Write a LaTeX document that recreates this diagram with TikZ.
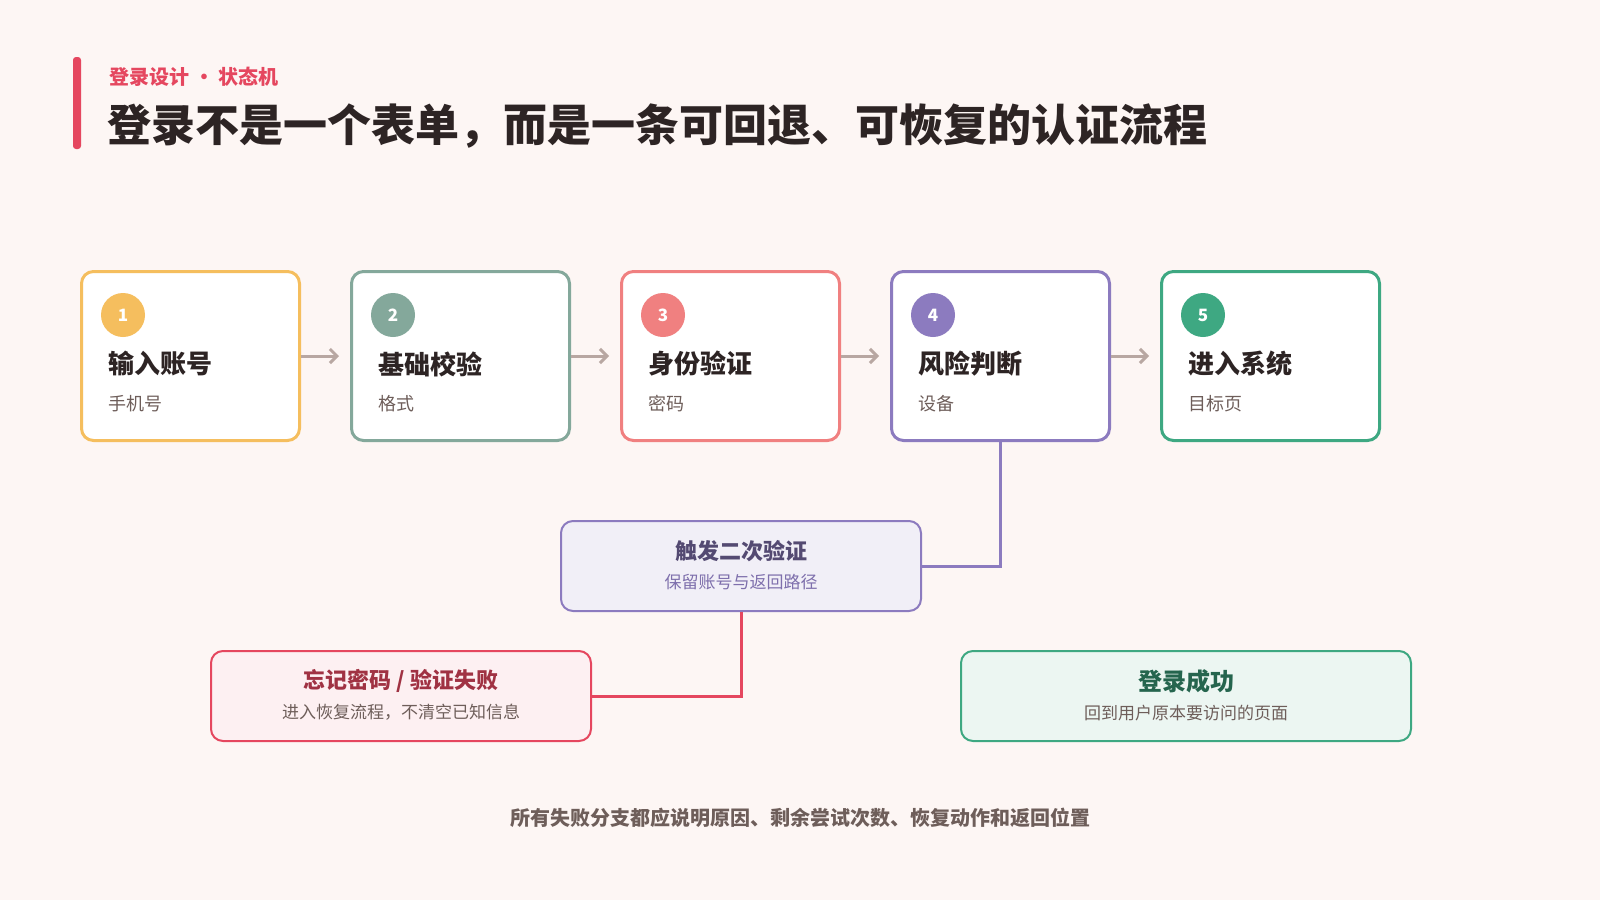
\documentclass[tikz,border=0pt]{standalone}
\usepackage{fontspec}
\setmainfont{Noto Sans CJK SC}
\usetikzlibrary{positioning,arrows.meta,calc}
\definecolor{bgc}{HTML}{FDF6F4}
\definecolor{ink}{HTML}{2D2424}
\definecolor{subc}{HTML}{6E5E5A}
\definecolor{redc}{HTML}{E5475F}
\definecolor{arrc}{HTML}{B8A7A2}
\definecolor{cA}{HTML}{F5BE5E}
\definecolor{cB}{HTML}{84A89B}
\definecolor{cC}{HTML}{F08080}
\definecolor{cD}{HTML}{8C7BBF}
\definecolor{cE}{HTML}{3EA882}
\tikzset{
  step/.style={draw=#1, line width=3pt, fill=white, rounded corners=12pt, minimum width=218pt, minimum height=169pt, anchor=north west},
  badge/.style={circle, fill=#1, minimum size=44pt, inner sep=0pt, text=white, font=\fontsize{17}{17}\selectfont\bfseries},
  side/.style={draw=#1, line width=2pt, rounded corners=12pt, anchor=north west},
  flow/.style={arrc, line width=3pt, -{Straight Barb[length=7pt,width=14pt]}},
}
\begin{document}
\begin{tikzpicture}[x=1pt,y=-1pt]
    \fill[bgc] (0,0) rectangle (1600,900);
    \useasboundingbox (0,0) rectangle (1600,900);
    % 标题
    \fill[redc, rounded corners=3pt] (73,57) rectangle (81,149);
    \node[anchor=west, text=redc, font=\fontsize{20}{20}\selectfont\bfseries] (kicker) at (106,77) {登录设计 • 状态机};
    \node[anchor=west, text=ink, font=\fontsize{44}{44}\selectfont\bfseries] (title) at (104,126) {登录不是一个表单，而是一条可回退、可恢复的认证流程};
    % 五个步骤
    \foreach \i/\c/\t/\s in {1/cA/输入账号/手机号 / 邮箱, 2/cB/基础校验/格式 / 必填, 3/cC/身份验证/密码 / 验证码, 4/cD/风险判断/设备 / 行为, 5/cE/进入系统/目标页 / 首屏} {
        \pgfmathsetmacro{\bx}{80 + (\i-1)*270}
        \node[step=\c] (s\i) at (\bx,270) {};
        \node[badge=\c] (b\i) at (\bx+43,315) {\i};
        \node[anchor=west, text=ink, font=\fontsize{26}{26}\selectfont\bfseries] (t\i) at (\bx+25,364) {\t};
        \node[anchor=west, text=subc, font=\fontsize{18}{18}\selectfont] (d\i) at (\bx+25,404) {\s};
    }
    % 主流程箭头
    \foreach \i in {1,...,4} {
        \pgfmathtruncatemacro{\next}{\i + 1}
        \draw[flow] (s\i.east) -- ++(38,0);
    }
    % 分支
    \node[side=cD, fill=cD!12, minimum width=360pt, minimum height=90pt] (retry) at (560,520) {};
    \node[text=cD!60!black, font=\fontsize{22}{22}\selectfont\bfseries] (retryT) at ($(retry.center)+(0,-15)$) {触发二次验证};
    \node[text=cD!90!black, font=\fontsize{17}{17}\selectfont] (retryS) at ($(retry.center)+(0,16)$) {保留账号与返回路径};
    \node[side=redc, fill=redc!8, minimum width=380pt, minimum height=90pt] (reset) at (210,650) {};
    \node[text=redc!70!black, font=\fontsize{22}{22}\selectfont\bfseries] (resetT) at ($(reset.center)+(0,-15)$) {忘记密码 / 验证失败};
    \node[text=subc, font=\fontsize{17}{17}\selectfont] (resetS) at ($(reset.center)+(0,16)$) {进入恢复流程，不清空已知信息};
    \node[side=cE, fill=cE!10, minimum width=450pt, minimum height=90pt] (done) at (960,650) {};
    \node[text=cE!60!black, font=\fontsize{24}{24}\selectfont\bfseries] (doneT) at ($(done.center)+(0,-15)$) {登录成功};
    \node[text=subc, font=\fontsize{17}{17}\selectfont] (doneS) at ($(done.center)+(0,17)$) {回到用户原本要访问的页面};
    \draw[cD, line width=3pt] (s4.south) |- (retry.east);
    \draw[redc, line width=3pt] (retry.south) |- (reset.east);
    % 脚注
    \node[text=subc, font=\fontsize{20}{20}\selectfont\bfseries] (note) at (800,818) {所有失败分支都应说明原因、剩余尝试次数、恢复动作和返回位置};
\end{tikzpicture}
\end{document}
